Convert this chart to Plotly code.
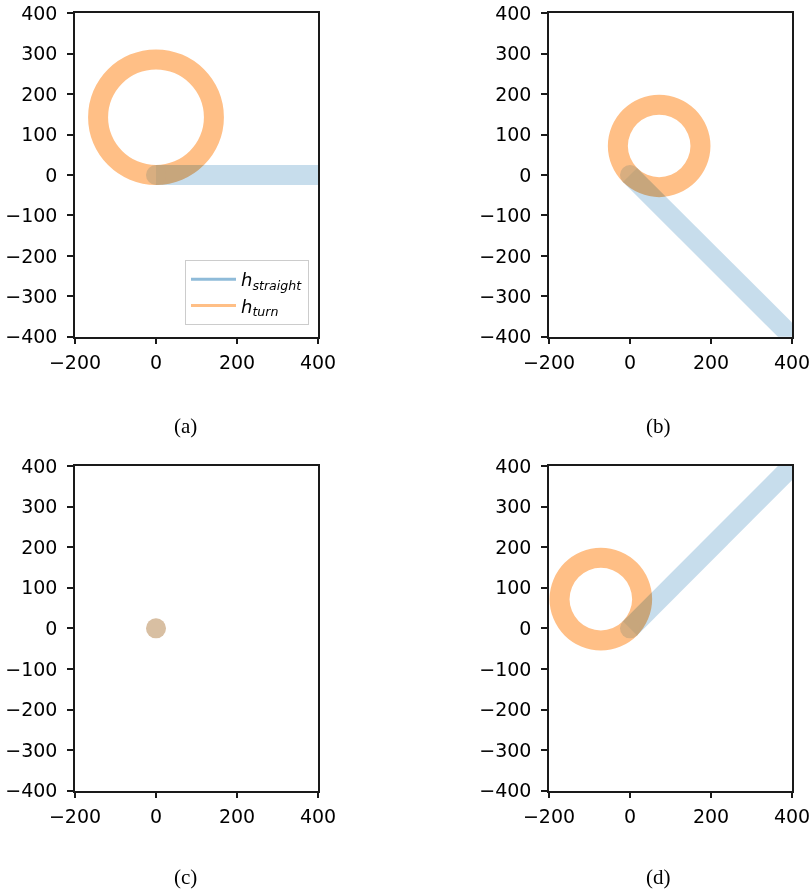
import plotly.graph_objects as go

# ---------------- data ----------------
captions = ["(a)", "(b)", "(c)", "(d)"]
x_ticks = [-200, 0, 200, 400]
y_ticks = [-400, -300, -200, -100, 0, 100, 200, 300, 400]

# h_straight trajectories (start at origin, run off the axes)
straight_x_a = [0, 450]
straight_y_a = [0, 0]
straight_x_b = [0, 450]
straight_y_b = [0, -450]
straight_x_c = [0]
straight_y_c = [0]
straight_x_d = [0, 450]
straight_y_d = [0, 450]

# h_turn trajectories (closed loops starting at origin)
turn_x_a = [0, 55, 101, 132, 143, 132, 101, 55, 0, -55, -101, -132, -143, -132, -101, -55, 0]
turn_y_a = [0, 11, 42, 88, 143, 198, 244, 275, 286, 275, 244, 198, 143, 88, 42, 11, 0]
turn_x_b = [0, 33, 72, 111, 144, 166, 174, 166, 144, 111, 72, 33, 0, -22, -30, -22, 0]
turn_y_b = [0, -22, -30, -22, 0, 33, 72, 111, 144, 166, 174, 166, 144, 111, 72, 33, 0]
turn_x_c = [0]
turn_y_c = [0]
turn_x_d = [0, -33, -72, -111, -144, -166, -174, -166, -144, -111, -72, -33, 0, 22, 30, 22, 0]
turn_y_d = [0, -22, -30, -22, 0, 33, 72, 111, 144, 166, 174, 166, 144, 111, 72, 33, 0]

straight_x = [straight_x_a, straight_x_b, straight_x_c, straight_x_d]
straight_y = [straight_y_a, straight_y_b, straight_y_c, straight_y_d]
turn_x = [turn_x_a, turn_x_b, turn_x_c, turn_x_d]
turn_y = [turn_y_a, turn_y_b, turn_y_c, turn_y_d]

legend_names = ["<i>h</i><sub><i>straight</i></sub>", "<i>h</i><sub><i>turn</i></sub>"]

# ---------------- style ----------------
W, H = 812, 891
C0 = "#1f77b4"
C1 = "#ff7f0e"
BAND = 20
AXC = "#1a1a1a"

# pixel boxes of the four axes: (left, right, top, bottom)
boxes = [(75, 318, 13.3, 336.7), (549, 792, 13.3, 336.7),
         (75, 318, 466, 790.7), (549, 792, 466, 790.7)]
cap_pos = [(185, 426), (658, 426), (185, 877), (658, 877)]

fig = go.Figure()
layout = dict(width=W, height=H, autosize=False,
              margin=dict(l=0, r=0, t=0, b=0, pad=0, autoexpand=False),
              paper_bgcolor="white", plot_bgcolor="white", showlegend=True)

tickfont = dict(family="DejaVu Sans", size=19, color="black")
for i, (l, r, t, b) in enumerate(boxes):
    sfx = "" if i == 0 else str(i + 1)
    xa = "x" + sfx
    ya = "y" + sfx
    common = dict(showline=True, mirror=True, linecolor=AXC, linewidth=1.5,
                  ticks="outside", ticklen=6, tickwidth=1.5, tickcolor=AXC,
                  showgrid=False, zeroline=False, tickfont=tickfont, fixedrange=True,
                  automargin=False)
    layout["xaxis" + sfx] = dict(domain=[l / W, r / W], range=[-200, 400],
                                 tickvals=x_ticks, anchor=ya, ticklabelstandoff=2, **common)
    layout["yaxis" + sfx] = dict(domain=[1 - b / H, 1 - t / H], range=[-400, 400],
                                 tickvals=y_ticks, anchor=xa, ticklabelstandoff=6, **common)

    tx, ty = turn_x[i], turn_y[i]
    fig.add_trace(go.Scatter(
        x=tx, y=ty, mode="lines+markers", xaxis=xa, yaxis=ya,
        line=dict(color=C1, width=BAND, shape="spline"),
        marker=dict(color=C1, size=[BAND] + [0] * (len(tx) - 1), line=dict(width=0)),
        opacity=0.5, showlegend=False, hoverinfo="skip", uid="turn" + str(i)))
    sx, sy = straight_x[i], straight_y[i]
    fig.add_trace(go.Scatter(
        x=sx, y=sy, mode="lines+markers", xaxis=xa, yaxis=ya,
        line=dict(color=C0, width=BAND),
        marker=dict(color=C0, size=[BAND] + [0] * (len(sx) - 1), line=dict(width=0)),
        opacity=0.25, showlegend=False, hoverinfo="skip", uid="blend" + str(i)))

# legend entries
for name, col in zip(legend_names, [C0, C1]):
    fig.add_trace(go.Scatter(x=[None], y=[None], mode="lines", name=name,
                             line=dict(color=col, width=3), opacity=0.5,
                             xaxis="x", yaxis="y"))

layout["legend"] = dict(x=309 / W, xanchor="right", y=1 - 325 / H, yanchor="bottom",
                        bgcolor="rgba(255,255,255,0.8)", bordercolor="#cccccc",
                        borderwidth=1, font=dict(family="DejaVu Sans", size=18, color="black"),
                        tracegroupgap=0, itemwidth=45, traceorder="normal")

annotations = []
for cap, (cx, cy) in zip(captions, cap_pos):
    annotations.append(dict(text=cap, x=cx / W, y=1 - cy / H, xref="paper", yref="paper",
                            xanchor="center", yanchor="middle", showarrow=False,
                            font=dict(family="Liberation Serif", size=21, color="black")))
layout["annotations"] = annotations
fig.update_layout(**layout)

post = """
var st = document.createElement('style');
st.textContent = 'body{margin:0 !important;} '
  + '.scatterlayer g.trace{mix-blend-mode:multiply !important;}';
document.head.appendChild(st);
var gd = document.getElementById('{plot_id}');
gd.querySelectorAll('.scatterlayer g.trace').forEach(function(g){
  g.style.mixBlendMode = 'multiply';
});
"""
fig.write_html("out.html", post_script=post, config={"displayModeBar": False})
